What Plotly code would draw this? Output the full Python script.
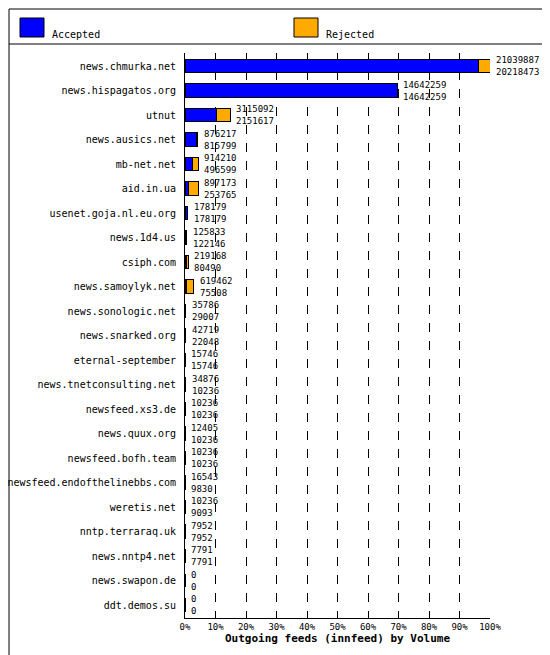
import plotly.graph_objects as go

feeds = ["news.chmurka.net", "news.hispagatos.org", "utnut", "news.ausics.net",
         "mb-net.net", "aid.in.ua", "usenet.goja.nl.eu.org", "news.1d4.us",
         "csiph.com", "news.samoylyk.net", "news.sonologic.net", "news.snarked.org",
         "eternal-september", "news.tnetconsulting.net", "newsfeed.xs3.de",
         "news.quux.org", "newsfeed.bofh.team", "newsfeed.endofthelinebbs.com",
         "weretis.net", "nntp.terraraq.uk", "news.nntp4.net", "news.swapon.de",
         "ddt.demos.su"]
offered = [21039887, 14642259, 3115092, 876217, 914210, 897173, 178179, 125833,
           219168, 619462, 35786, 42719, 15746, 34876, 10236, 12405, 10236,
           16543, 10236, 7952, 7791, 0, 0]
accepted = [20218473, 14642259, 2151617, 815799, 496599, 253765, 178179, 122146,
            80490, 75508, 29007, 22048, 15746, 10236, 10236, 10236, 10236,
            9830, 9093, 7952, 7791, 0, 0]
series = ["Accepted", "Rejected"]
colors = ["#0000ff", "#ffaa00"]

top = max(offered)
acc_pct = [a / top * 100 for a in accepted]
rej_pct = [(o - a) / top * 100 for o, a in zip(offered, accepted)]
off_pct = [o / top * 100 for o in offered]

fig = go.Figure()
fig.add_trace(go.Bar(y=feeds, x=acc_pct, orientation="h", name=series[0], showlegend=False,
                     marker=dict(color=colors[0], line=dict(color="black", width=1))))
fig.add_trace(go.Bar(y=feeds, x=rej_pct, orientation="h", name=series[1], showlegend=False,
                     marker=dict(color=colors[1], line=dict(color="black", width=1))))

for f, p, o, a in zip(feeds, off_pct, offered, accepted):
    fig.add_annotation(x=p, y=f, text=f"{o}<br>{a}", showarrow=False,
                       xanchor="left", xshift=4, align="left",
                       font=dict(size=9, color="black"))

W, H, L, R, T, B = 550, 655, 177, 68, 45, 45
pw, ph = W - L - R, H - T - B
def px(x): return (x - L) / pw
def py(y): return 1 - (y - T) / ph

fig.add_shape(type="rect", xref="paper", yref="paper", x0=px(1), x1=px(548),
              y0=py(653), y1=py(1), line=dict(color="black", width=1))
fig.add_shape(type="line", xref="paper", yref="paper", x0=px(1), x1=px(548),
              y0=py(36), y1=py(36), line=dict(color="black", width=1))

# legend boxes
for i, (name, c) in enumerate(zip(series, colors)):
    x0 = 12 + i * 274
    fig.add_shape(type="rect", xref="paper", yref="paper", x0=px(x0), x1=px(x0 + 24),
                  y0=py(29), y1=py(10), fillcolor=c, line=dict(color="black", width=1))
    fig.add_annotation(x=px(x0 + 30), y=py(19), xref="paper", yref="paper", text=name,
                       showarrow=False, xanchor="left", font=dict(size=10))

fig.update_layout(
    width=W, height=H, barmode="stack", bargap=0.45, showlegend=False,
    margin=dict(l=L, r=R, t=T, b=B),
    plot_bgcolor="white", paper_bgcolor="white",
    font=dict(family="DejaVu Sans Mono", size=10, color="black"),
    xaxis=dict(range=[0, 100], tickvals=list(range(0, 101, 10)),
               ticktext=[f"{v}%" for v in range(0, 101, 10)], automargin=False,
               showgrid=True, gridcolor="black", griddash="dash", gridwidth=1,
               showline=True, linecolor="black", zeroline=False,
               tickfont=dict(size=9),
               title=dict(text="<b>Outgoing feeds (innfeed) by Volume</b>",
                          standoff=2, font=dict(size=11))),
    yaxis=dict(autorange="reversed", showline=True, linecolor="black",
               ticks="", ticksuffix=" ", automargin=False, tickfont=dict(size=10)),
)

fig.write_html("out.html")
